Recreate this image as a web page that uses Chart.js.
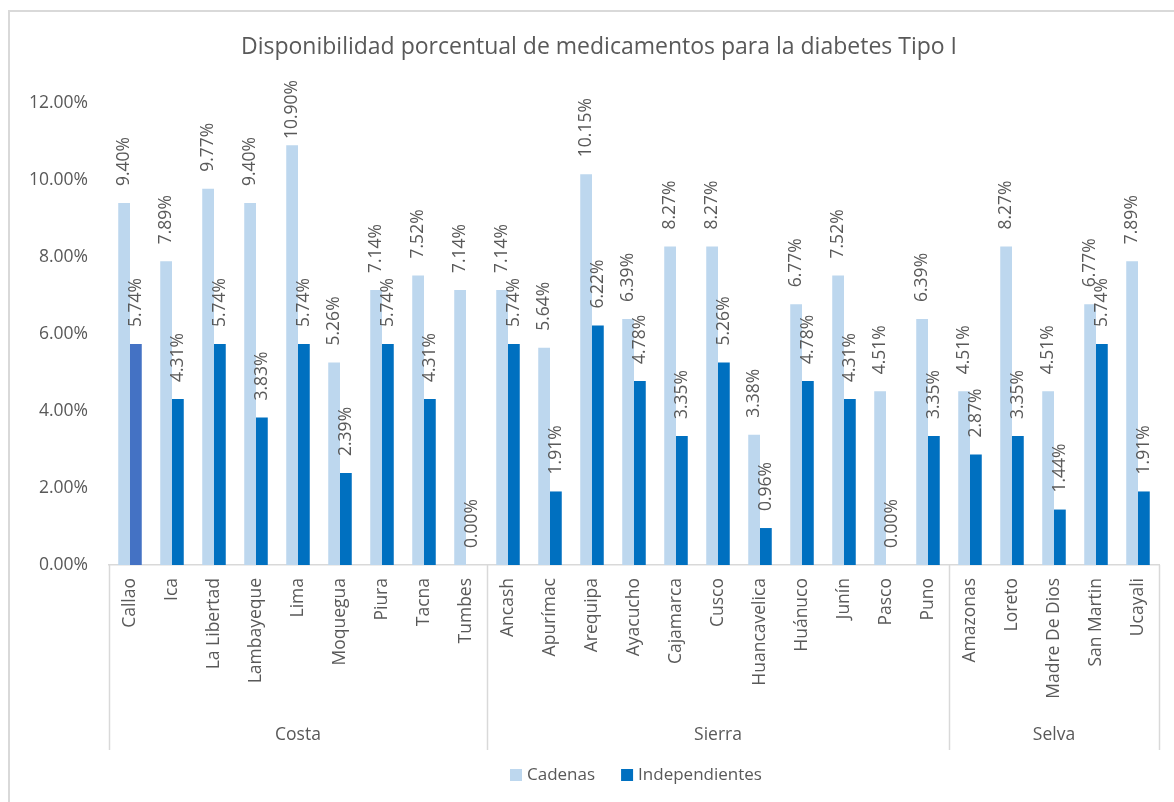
<!DOCTYPE html>
<html>
<head>
<meta charset="utf-8">
<script src="https://cdn.jsdelivr.net/npm/chart.js@4.4.1/dist/chart.umd.min.js"></script>
<style>
    html, body { margin: 0; padding: 0; background: #ffffff; }
    #wrap { position: relative; width: 1174px; height: 802px; overflow: hidden; }
    #frame {
        position: absolute; left: 8px; top: 10px; width: 1180px; height: 800px;
        border-left: 2px solid #d9d9d9; border-top: 2px solid #d9d9d9; box-sizing: border-box;
    }
    canvas { position: absolute; left: 0; top: 0; }
</style>
</head>
<body>
<div id="wrap">
    <div id="frame"></div>
    <canvas id="chart" width="1174" height="802"></canvas>
</div>
<script>
// Data (percent values)
const regions = ['Callao', 'Ica', 'La Libertad', 'Lambayeque', 'Lima', 'Moquegua', 'Piura', 'Tacna', 'Tumbes',
    'Ancash', 'Apurímac', 'Arequipa', 'Ayacucho', 'Cajamarca', 'Cusco', 'Huancavelica', 'Huánuco', 'Junín', 'Pasco', 'Puno',
    'Amazonas', 'Loreto', 'Madre De Dios', 'San Martin', 'Ucayali'];
const zones = ['Costa', 'Sierra', 'Selva'];
const zoneSizes = [9, 11, 5];
const cadenas = [9.40, 7.89, 9.77, 9.40, 10.90, 5.26, 7.14, 7.52, 7.14,
    7.14, 5.64, 10.15, 6.39, 8.27, 8.27, 3.38, 6.77, 7.52, 4.51, 6.39,
    4.51, 8.27, 4.51, 6.77, 7.89];
const independientes = [5.74, 4.31, 5.74, 3.83, 5.74, 2.39, 5.74, 4.31, 0.00,
    5.74, 1.91, 6.22, 4.78, 3.35, 5.26, 0.96, 4.78, 4.31, 0.00, 3.35,
    2.87, 3.35, 1.44, 5.74, 1.91];
const yTicks = [0, 2, 4, 6, 8, 10, 12];

const TEXT = '#595959';
const FONT = '"Open Sans", "Noto Sans", sans-serif';
const LINE = '#d9d9d9';
const COLORS = ['#BDD7EE', '#0070C0'];

// Callao's Independientes bar is a different shade in the original
const indepColors = regions.map((r, i) => i === 0 ? '#4472C4' : COLORS[1]);

// Title, rotated value labels, category labels, zone groups and legend
const decorPlugin = {
    id: 'decor',
    afterDatasetsDraw(chart) {
        const ctx = chart.ctx;
        const x = chart.scales.x;
        const area = chart.chartArea;

        ctx.save();
        // title
        ctx.fillStyle = TEXT;
        ctx.font = '23px ' + FONT;
        ctx.textAlign = 'center';
        ctx.textBaseline = 'middle';
        ctx.fillText('Disponibilidad porcentual de medicamentos para la diabetes Tipo I', 599, 47);

        // value labels above bars, pushed down a bit when they would run too high
        ctx.font = '17.5px ' + FONT;
        chart.data.datasets.forEach((ds, di) => {
            chart.getDatasetMeta(di).data.forEach((bar, i) => {
                const txt = ds.data[i].toFixed(2) + '%';
                const w = ctx.measureText(txt).width;
                let base = bar.y - 17;
                if (base - w < area.top - 23) base = area.top - 23 + w;
                ctx.save();
                ctx.translate(bar.x, base);
                ctx.rotate(-Math.PI / 2);
                ctx.textAlign = 'left';
                ctx.textBaseline = 'middle';
                ctx.fillText(txt, 0, 0);
                ctx.restore();
            });
        });

        // category labels
        regions.forEach((r, i) => {
            ctx.save();
            ctx.translate(x.getPixelForValue(i), area.bottom + 13);
            ctx.rotate(-Math.PI / 2);
            ctx.textAlign = 'right';
            ctx.textBaseline = 'middle';
            ctx.fillText(r, 0, 0);
            ctx.restore();
        });

        // zone separators and names
        const half = (x.getPixelForValue(1) - x.getPixelForValue(0)) / 2;
        ctx.strokeStyle = LINE;
        ctx.lineWidth = 1.5;
        let start = 0;
        const edges = [area.left];
        zoneSizes.forEach((n, zi) => {
            const left = x.getPixelForValue(start) - half;
            const right = x.getPixelForValue(start + n - 1) + half;
            edges.push(right);
            ctx.textAlign = 'center';
            ctx.textBaseline = 'middle';
            ctx.fillText(zones[zi], (left + right) / 2, area.bottom + 170);
            start += n;
        });
        edges.forEach(e => {
            ctx.beginPath();
            ctx.moveTo(Math.round(e) + 0.5, area.bottom);
            ctx.lineTo(Math.round(e) + 0.5, area.bottom + 185);
            ctx.stroke();
        });

        // legend
        ctx.font = '17px ' + FONT;
        ctx.textAlign = 'left';
        let lx = 510;
        chart.data.datasets.forEach((ds, di) => {
            ctx.fillStyle = COLORS[di];
            ctx.fillRect(lx, 769, 12, 12);
            ctx.fillStyle = TEXT;
            ctx.fillText(ds.label, lx + 17, 775);
            lx += 17 + ctx.measureText(ds.label).width + 26;
        });
        ctx.restore();
    }
};

new Chart(document.getElementById('chart').getContext('2d'), {
    type: 'bar',
    data: {
        labels: regions,
        datasets: [
            { label: 'Cadenas', data: cadenas, backgroundColor: COLORS[0] },
            { label: 'Independientes', data: independientes, backgroundColor: indepColors }
        ]
    },
    options: {
        responsive: false,
        animation: false,
        devicePixelRatio: 1,
        layout: { padding: { left: 0, right: 15, top: 103, bottom: 47 } },
        datasets: { bar: { barPercentage: 1, categoryPercentage: 0.56 } },
        plugins: {
            title: { display: false },
            tooltip: { enabled: false },
            legend: { display: false }
        },
        scales: {
            x: {
                grid: { display: false, drawTicks: false },
                border: { display: true, color: LINE, width: 1.5 },
                ticks: { display: false },
                afterFit: function (scale) { scale.height = 190; }
            },
            y: {
                min: 0,
                max: 12,
                grid: { display: false, drawTicks: false },
                border: { display: false },
                afterBuildTicks: function (scale) { scale.ticks = yTicks.map(v => ({ value: v })); },
                ticks: {
                    color: TEXT,
                    padding: 21,
                    font: { family: FONT, size: 17.5 },
                    callback: function (value) { return value.toFixed(2) + '%'; }
                },
                afterFit: function (scale) { scale.width = 109; }
            }
        }
    },
    plugins: [decorPlugin]
});
</script>
</body>
</html>
